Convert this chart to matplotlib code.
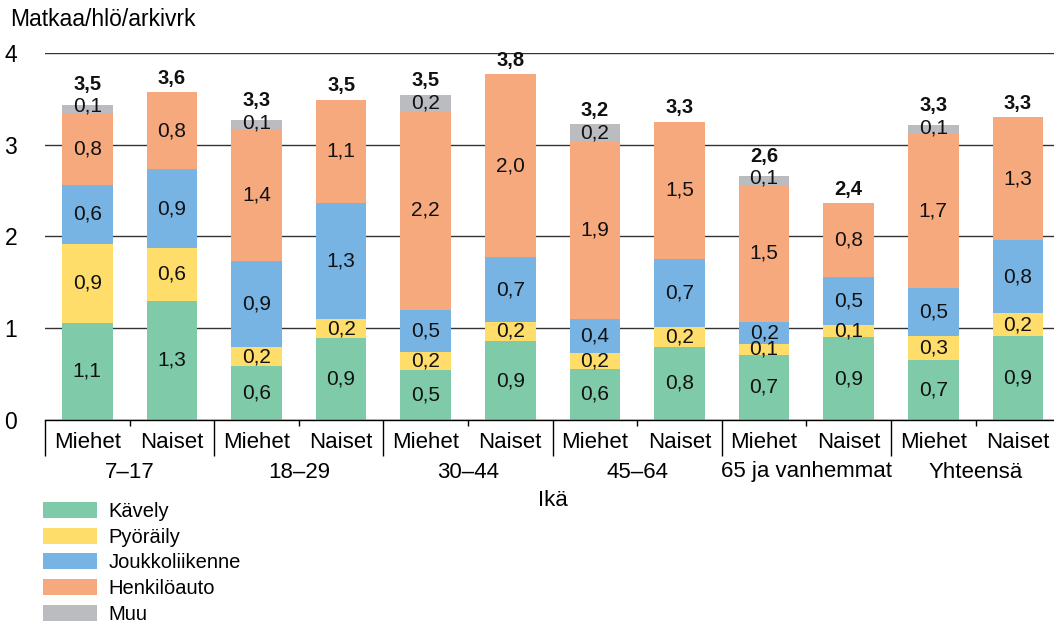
import numpy as np
import matplotlib.pyplot as plt

plt.rcParams['font.family'] = ['Liberation Sans', 'DejaVu Sans']

# Data
groups = ['7–17', '18–29', '30–44', '45–64', '65 ja vanhemmat', 'Yhteensä']
sexes = ['Miehet', 'Naiset']
series = ['Kävely', 'Pyöräily', 'Joukkoliikenne', 'Henkilöauto', 'Muu']

kavely = [1.06, 1.30, 0.59, 0.89, 0.54, 0.86, 0.56, 0.80, 0.71, 0.90, 0.65, 0.92]
pyoraily = [0.86, 0.57, 0.20, 0.21, 0.20, 0.21, 0.17, 0.21, 0.12, 0.14, 0.27, 0.24]
joukko = [0.64, 0.86, 0.94, 1.26, 0.46, 0.70, 0.37, 0.74, 0.24, 0.52, 0.52, 0.80]
henkilo = [0.78, 0.84, 1.43, 1.13, 2.17, 2.00, 1.93, 1.50, 1.49, 0.80, 1.67, 1.34]
muu = [0.09, 0, 0.11, 0, 0.17, 0, 0.19, 0, 0.10, 0, 0.10, 0]
totals = ['3,5', '3,6', '3,3', '3,5', '3,5', '3,8', '3,2', '3,3', '2,6', '2,4', '3,3', '3,3']

colors = ['#7FCAA8', '#FFDD6B', '#78B4E3', '#F7A97E', '#BBBCC0']

fig = plt.figure(figsize=(10.54, 6.23), dpi=100)
ax = fig.add_axes([45 / 1054, 203 / 623, 1015.2 / 1054, 367.3 / 623])

x = np.arange(len(kavely))
bottom = np.zeros(len(x))
muu_y = [None] * len(x)
for name, vals, col in zip(series, [kavely, pyoraily, joukko, henkilo, muu], colors):
    vals = np.array(vals)
    ax.bar(x, vals, 0.6, bottom=bottom, color=col, label=name, zorder=2)
    for i, v in enumerate(vals):
        if v <= 0:
            continue
        if name == 'Muu':
            y = bottom[i] + max(v / 2, 0.075)
            muu_y[i] = y
        else:
            y = bottom[i] + v / 2
        ax.text(x[i], y, f'{v:.1f}'.replace('.', ','), ha='center', va='center',
                fontsize=15, color='#111111', zorder=3)
    bottom += vals

# totals above the bars
for i, t in enumerate(totals):
    ty = bottom[i] + 0.15
    if muu_y[i] is not None:
        ty = max(ty, muu_y[i] + 0.24)
    ax.text(x[i], ty, t, ha='center', va='center', fontsize=14.5,
            fontweight='bold', color='#111111')

ax.set_xlim(-0.5, 11.5)
ax.set_ylim(0, 4)
ax.set_yticks([0, 1, 2, 3, 4])
ax.tick_params(axis='y', length=0, pad=20, labelsize=16.5)
ax.yaxis.grid(True, color='#333333', linewidth=1.0)
ax.set_axisbelow(True)
for s in ['left', 'right', 'top']:
    ax.spines[s].set_visible(False)
ax.spines['bottom'].set_linewidth(1.0)

# separators under the axis
ax.set_xticks(np.arange(-0.5, 12, 2))
ax.set_xticks(np.arange(0.5, 12, 2), minor=True)
ax.tick_params(axis='x', which='major', length=26, width=1.0, labelbottom=False)
ax.tick_params(axis='x', which='minor', length=4.5, width=1.0, labelbottom=False)

for i in x:
    ax.annotate(sexes[i % 2], (i, 0), xycoords=('data', 'axes fraction'),
                xytext=(0, -22), textcoords='offset pixels',
                ha='center', va='center', fontsize=16)
for g, name in enumerate(groups):
    ax.annotate(name, (2 * g + 0.5, 0), xycoords=('data', 'axes fraction'),
                xytext=(0, -52), textcoords='offset pixels',
                ha='center', va='center', fontsize=16)
ax.annotate('Ikä', (5.5, 0), xycoords=('data', 'axes fraction'),
            xytext=(0, -80), textcoords='offset pixels',
            ha='center', va='center', fontsize=16)

fig.text(10 / 1054, 1 - 20 / 623, 'Matkaa/hlö/arkivrk', ha='left', va='center', fontsize=16.5)

fig.legend(loc='upper left', bbox_to_anchor=(43 / 1054, 1 - 502 / 623), frameon=False,
           fontsize=14.5, handlelength=2.7, handleheight=0.85, handletextpad=0.55,
           labelspacing=0.33, borderpad=0, borderaxespad=0)

fig.savefig('out.png', dpi=100)
